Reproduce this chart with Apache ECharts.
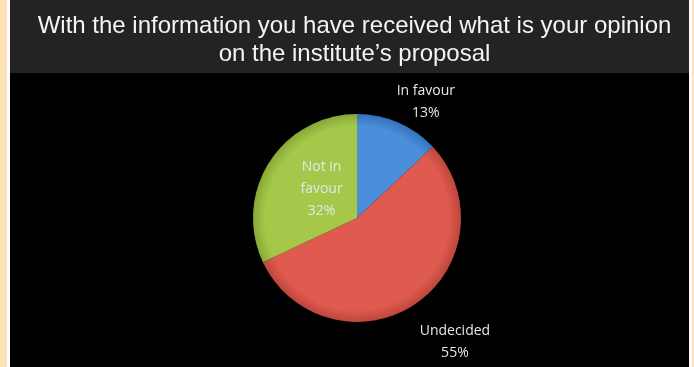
<!DOCTYPE html>
<html>
<head>
<meta charset="utf-8">
<script src="https://cdn.jsdelivr.net/npm/echarts@6/dist/echarts.min.js"></script>
<style>
  html, body { margin: 0; padding: 0; }
  body { width: 694px; height: 367px; background: #fde2b3; position: relative; overflow: hidden; }
  #frame { position: absolute; left: 7px; top: 0; width: 685px; height: 367px; background: #ffffff; }
  #panel { position: absolute; left: 10px; top: 0; width: 679px; height: 367px; background: #000000; }
  #header { position: absolute; left: 0; top: 0; width: 679px; height: 73px; background: #252223; }
  #chart { position: absolute; left: 0; top: 0; width: 694px; height: 367px; }
</style>
</head>
<body>
<div id="frame"></div>
<div id="panel"><div id="header"></div></div>
<div id="chart"></div>
<script>
// Survey responses on the institute's proposal
var titleLines = ['With the information you have received what is your opinion', 'on the institute\u2019s proposal'];
var categories = ['In favour', 'Undecided', 'Not in\nfavour'];
var shares = [13, 55, 32];
var sliceColors = ['#4b8fdb', '#e05b4f', '#a5c84b'];
var sliceEdges = ['#3472bd', '#bd463c', '#88a836'];

// Pie geometry
var pieCenter = [357, 218];
var pieRadius = 104;

// Where each label sits relative to its slice's default (inside) anchor
var labelShift = [[47, -66], [67, 79], [11, 0]];

var chart = echarts.init(document.getElementById('chart'), null, { renderer: 'canvas' });

var data = categories.map(function (name, i) {
  return {
    name: name,
    value: shares[i],
    itemStyle: {
      // shading shared across the whole disc, darkening toward the rim
      color: {
        type: 'radial', global: true,
        x: pieCenter[0], y: pieCenter[1], r: pieRadius,
        colorStops: [
          { offset: 0, color: sliceColors[i] },
          { offset: 0.88, color: sliceColors[i] },
          { offset: 1, color: sliceEdges[i] }
        ]
      }
    }
  };
});

chart.setOption({
  backgroundColor: 'transparent',
  animation: false,
  title: {
    text: titleLines.join('\n'),
    left: 349.5,
    top: 7,
    textAlign: 'center',
    textStyle: {
      color: '#f4f4f4',
      fontFamily: 'Liberation Sans, Arial, sans-serif',
      fontSize: 24,
      fontWeight: 'normal',
      lineHeight: 28
    }
  },
  series: [{
    type: 'pie',
    center: pieCenter,
    radius: pieRadius,
    startAngle: 90,
    clockwise: true,
    data: data,
    itemStyle: { borderWidth: 0 },
    label: {
      show: true,
      position: 'inside',
      formatter: function (p) { return p.name + '\n' + p.value + '%'; },
      color: '#e6e6e6',
      fontFamily: 'Open Sans, sans-serif',
      fontSize: 14,
      lineHeight: 22
    },
    labelLine: { show: false },
    labelLayout: function (params) {
      var s = labelShift[params.dataIndex];
      return { dx: s[0], dy: s[1] };
    },
    emphasis: { disabled: true }
  }]
});
</script>
</body>
</html>
